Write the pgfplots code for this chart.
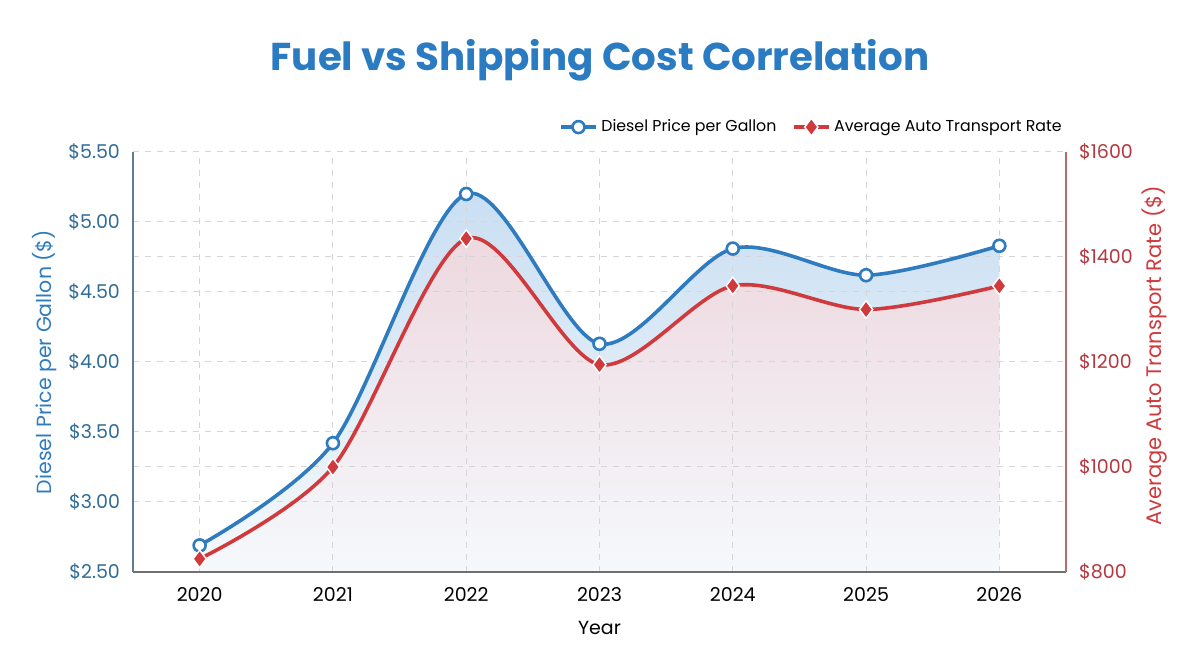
\documentclass[border=0pt]{standalone}
\usepackage{pgfplots}
\pgfplotsset{compat=1.18}
\usepackage{fontspec}
\setmainfont{Poppins}

\definecolor{titleblue}{HTML}{2A7BC2}
\definecolor{dieselblue}{HTML}{2E7BBF}
\definecolor{lefttick}{HTML}{2F6C98}
\definecolor{autored}{HTML}{D03A3D}
\definecolor{righttick}{HTML}{B5373D}
\definecolor{gridgray}{HTML}{D6D6D6}
\definecolor{axisgray}{HTML}{707070}
\definecolor{leftaxis}{HTML}{5F7D92}
\definecolor{rightaxis}{HTML}{B86A6C}
\definecolor{bluetop}{HTML}{C8DEF2}
\definecolor{bluebottom}{HTML}{F5F9FC}
\definecolor{redtop}{HTML}{EDD7DE}
\definecolor{redmid}{HTML}{EAE4EC}
\definecolor{redbottom}{HTML}{F5F9FC}

\pgfkeys{/pgf/number format/assume math mode=true}

\pgfplotsset{
  frame/.style={at={(66.5pt,48.5pt)}, anchor=south west,
    scale only axis, width=466.5pt, height=210pt,
    xmin=2019.5, xmax=2026.5},
  dieselline/.style={dieselblue, line width=1.8pt, smooth,
    mark=*, mark size=3pt,
    mark options={fill=white, draw=dieselblue, line width=1.3pt}},
  autoline/.style={autored, line width=1.8pt, smooth,
    mark=diamond*, mark size=4.4pt,
    mark options={fill=autored, draw=white, line width=0.7pt}},
  ticklab/.style={font=\fontsize{9.5}{11}\selectfont},
  % diesel prices measured from the $2.50 floor
  dieselscale/.style={y filter/.expression={y-2.5}},
  % transport rates mapped onto the same frame ($800..$1600 -> 0..3)
  autoscale/.style={y filter/.expression={(y-800)*3/800}},
}

\pgfplotstableread{
year diesel rate
2020 2.69  825
2021 3.42  1000
2022 5.20  1435
2023 4.13  1195
2024 4.81  1345
2025 4.62  1300
2026 4.83  1345
}\costdata

\begin{document}
\begin{tikzpicture}
\path[use as bounding box] (0pt,0pt) rectangle (600pt,334.5pt);

\node[font=\fontsize{19.4}{23}\selectfont\bfseries, text=titleblue]
  at (300pt,304.3pt) {Fuel vs Shipping Cost Correlation};

% shaded areas under both curves (drawn first, beneath the grid)
\begin{axis}[frame, ymin=0, ymax=3, hide axis]
\addplot[dieselscale, smooth, draw=none,
    top color=bluetop, bottom color=bluebottom, forget plot]
  table[x=year, y=diesel] {\costdata} \closedcycle;
\addplot[autoscale, smooth, draw=none,
    top color=redtop, middle color=redmid, bottom color=redbottom, forget plot]
  table[x=year, y=rate] {\costdata} \closedcycle;
\end{axis}

% grid, left scale, both lines and the legend
\begin{axis}[
  frame, ymin=0, ymax=3,
  xtick={2020,2021,2022,2023,2024,2025,2026},
  ytick={0,0.5,1,1.5,2,2.5,3},
  minor ytick={0.75,2.25},
  axis x line*=bottom, axis y line*=left,
  x axis line style={draw=axisgray, line width=0.7pt},
  y axis line style={draw=leftaxis, line width=0.7pt},
  major tick length=0pt, minor tick length=0pt,
  xmajorgrids, ymajorgrids, yminorgrids,
  major grid style={gridgray, dashed, line width=0.5pt},
  minor grid style={gridgray, dashed, line width=0.5pt},
  xticklabel={\pgfmathprintnumber[1000 sep={}]{\tick}},
  xticklabel style={ticklab, text=black, yshift=-4pt},
  yticklabel={\pgfmathparse{\tick+2.5}\$\pgfmathprintnumber[fixed,fixed zerofill,precision=2]{\pgfmathresult}},
  yticklabel style={ticklab, text=lefttick, xshift=-3pt},
  ylabel={Diesel Price per Gallon (\$)},
  ylabel style={at={(axis description cs:-0.0943,0.5)}, anchor=center,
    font=\fontsize{10.25}{12}\selectfont, text=dieselblue},
  xlabel={Year},
  xlabel style={at={(axis description cs:0.5,-0.1333)}, anchor=center,
    font=\fontsize{9.5}{11}\selectfont, text=black},
  legend columns=2,
  legend cell align=left,
  legend style={at={(axis description cs:1,1)}, anchor=south east, yshift=6.5pt,
    draw=none, fill=none, inner sep=0pt,
    font=\fontsize{7.9}{9}\selectfont,
    /tikz/every even column/.append style={column sep=6pt}},
]
\addplot[dieselscale, dieselline] table[x=year, y=diesel] {\costdata};
\addlegendentry{Diesel Price per Gallon}
\addplot[autoscale, autoline] table[x=year, y=rate] {\costdata};
\addlegendentry{Average Auto Transport Rate}
\end{axis}

% right-hand scale for the transport rate
\begin{axis}[
  frame, ymin=800, ymax=1600,
  axis x line=none, axis y line*=right,
  y axis line style={draw=rightaxis, line width=0.7pt},
  ytick={800,1000,1200,1400,1600},
  major tick length=0pt,
  yticklabel={\$\pgfmathprintnumber[1000 sep={}]{\tick}},
  yticklabel style={ticklab, text=righttick, xshift=3pt},
  ylabel={Average Auto Transport Rate (\$)},
  ylabel style={at={(axis description cs:1.0954,0.515)}, anchor=center, rotate=0,
    font=\fontsize{10.5}{12}\selectfont, text=autored},
]
\addplot[draw=none, forget plot] table[x=year, y=rate] {\costdata};
\end{axis}
\end{tikzpicture}
\end{document}
